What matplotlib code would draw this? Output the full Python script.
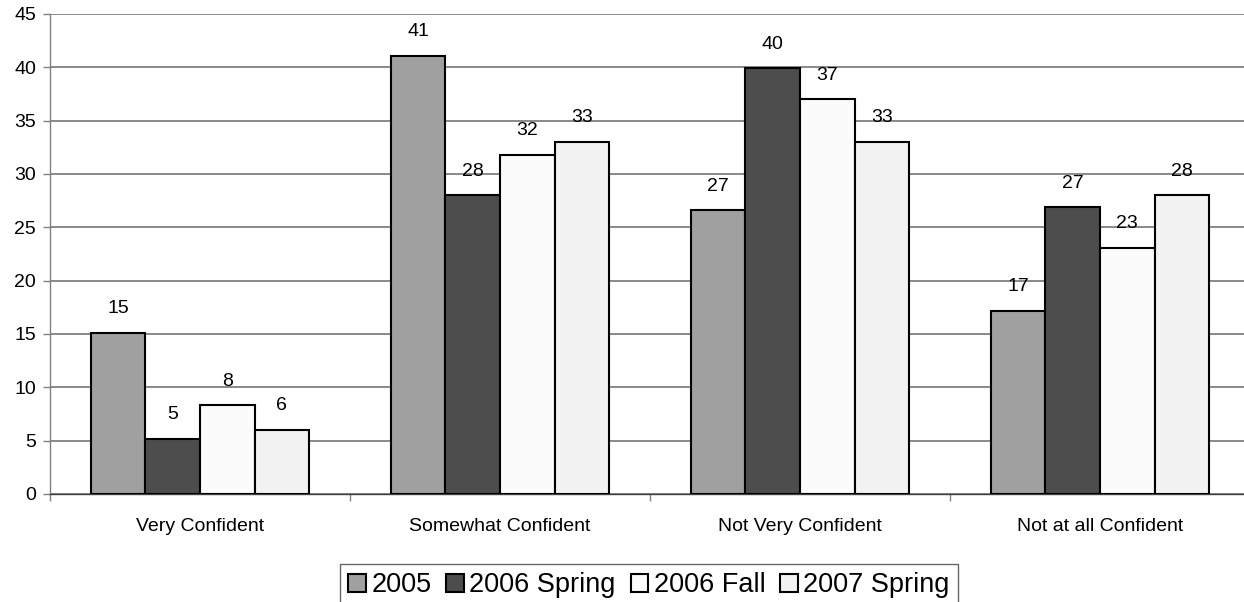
import numpy as np
import matplotlib.pyplot as plt

plt.rcParams['font.family'] = ['Liberation Sans', 'DejaVu Sans']

categories = ["Very Confident", "Somewhat Confident", "Not Very Confident", "Not at all Confident"]
series = ["2005", "2006 Spring", "2006 Fall", "2007 Spring"]
values = {
    "2005":        [15.1, 41.1, 26.6, 17.2],
    "2006 Spring": [5.2, 28.0, 39.9, 26.9],
    "2006 Fall":   [8.3, 31.8, 37.0, 23.1],
    "2007 Spring": [6.0, 33.0, 33.0, 28.0],
}
colors = ['#a0a0a0', '#4d4d4d', '#fbfbfb', '#f2f2f2']

fig = plt.figure(figsize=(12.44, 6.02), dpi=100)
ax = fig.add_axes([50 / 1244, (602 - 494) / 602, 1200 / 1244, 480 / 602])

x = np.arange(len(categories))
w = 0.182
for i, s in enumerate(series):
    pos = x + (i - 1.5) * w
    bars = ax.bar(pos, values[s], w, color=colors[i], edgecolor='black',
                  linewidth=1.5, zorder=3, label=s)
    for b, v in zip(bars, values[s]):
        ax.annotate(f"{v:.0f}", (b.get_x() + b.get_width() / 2, v),
                    xytext=(0, 24), textcoords='offset pixels',
                    ha='center', va='center', fontsize=14, zorder=4)

ax.set_xlim(-0.5, 3.5)
ax.set_ylim(0, 45)
ax.set_yticks(np.arange(0, 46, 5))
ax.set_xticks(x)
ax.set_xticklabels(categories, fontsize=14)
ax.set_xticks(np.arange(-0.5, 3.6, 1), minor=True)
ax.tick_params(axis='x', which='major', length=0, pad=17)
ax.tick_params(axis='x', which='minor', length=5, width=1, color='#808080')
ax.tick_params(axis='y', labelsize=14, length=5, width=1, color='#808080', pad=5)
ax.yaxis.grid(True, color='#6a6a6a', linewidth=1.1)
ax.set_axisbelow(True)
for sp in ['top', 'right']:
    ax.spines[sp].set_visible(False)
ax.spines['left'].set_color('#808080')
ax.spines['bottom'].set_color('#404040')
ax.spines['left'].set_linewidth(1)
ax.spines['bottom'].set_linewidth(1)

leg = fig.legend(loc='upper center', bbox_to_anchor=(649 / 1244, 1 - 564 / 602), ncol=4,
                 frameon=True, fancybox=False, edgecolor='#404040', fontsize=19.5,
                 handlelength=0.65, handleheight=0.65, handletextpad=0.2,
                 columnspacing=0.55, borderpad=0.3, borderaxespad=0)
leg.get_frame().set_linewidth(1)

fig.savefig('out.png', dpi=100)
